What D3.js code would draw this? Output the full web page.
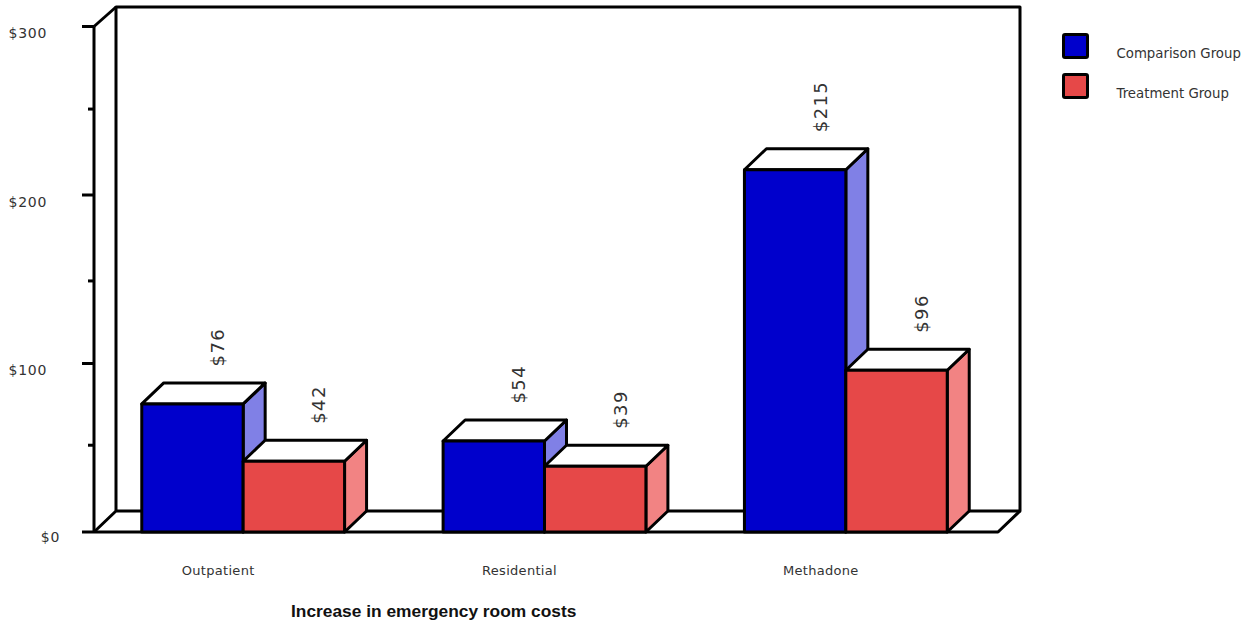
<!DOCTYPE html>
<html><head><meta charset="utf-8">
<script src="https://cdn.jsdelivr.net/npm/d3@7"></script>
<style>html,body{margin:0;padding:0;background:#fff}svg{display:block}</style>
</head><body><svg id="c" width="1253" height="624"></svg>
<script>
const categories = ["Outpatient","Residential","Methadone"];
const seriesNames = ["Comparison Group","Treatment Group"];
const comparison = [76,54,215];
const treatment = [42,39,96];
const yTicks = [0,100,200,300];
const yMinorTicks = [51.5,149,251];
const xTitle = "Increase in emergency room costs";
const frontColors = ["#0000cc","#e64848"];
const sideColors = ["#8080e6","#f28383"];

const svg = d3.select("#c");
const dx = 22, dy = 21;
const y = d3.scaleLinear().domain([0,300]).range([532,26.5]);
const x0 = d3.scaleBand().domain(categories).range([92.5,996.5]).paddingInner(0.327).paddingOuter(0.1635);
const x1 = d3.scaleBand().domain(seriesNames).range([0,x0.bandwidth()]);
const fmt = v => "$" + v;
const font = "'DejaVu Sans',Verdana,sans-serif";
const sw = 3;
const line = d3.line();

const L = 94, R = 998, B = y(0), T = y(300);
const g = svg.append("g").attr("fill","none").attr("stroke","#000").attr("stroke-width",sw).attr("stroke-linejoin","round");
g.append("path").attr("d",line([[L,B],[L+dx,B-dy],[R+dx,B-dy],[R+dx,T-dy+1.5],[L+dx,T-dy+1.5],[L+dx,B-dy]]));
g.append("path").attr("d",line([[L,T],[L+dx,T-dy+1.5]]));
g.append("path").attr("d",line([[L,B],[R,B],[R+dx,B-dy]]));
g.append("path").attr("d",line([[L,B],[L,T]]));

g.selectAll("line.major").data(yTicks).join("line").attr("class","major")
  .attr("x1",L-12).attr("x2",L).attr("y1",d=>y(d)).attr("y2",d=>y(d));
g.selectAll("line.minor").data(yMinorTicks).join("line").attr("class","minor")
  .attr("x1",L-6).attr("x2",L).attr("y1",d=>y(d)).attr("y2",d=>y(d));
svg.selectAll("text.ytick").data(yTicks).join("text").attr("class","ytick")
  .attr("x",d=>d===0?60:47).attr("y",d=>y(d)+(d===0?10:11.5)).attr("text-anchor","end")
  .attr("font-family",font).attr("font-size",14).attr("letter-spacing",0.7).attr("fill","#333").text(fmt);

[comparison,treatment].forEach((vals,s)=>{
  const name = seriesNames[s];
  const bars = svg.append("g").attr("stroke","#000").attr("stroke-width",sw).attr("stroke-linejoin","round");
  categories.forEach((c,i)=>{
    const xa = x0(c)+x1(name), xb = xa+x1.bandwidth(), yt = y(vals[i]);
    bars.append("path").attr("fill",sideColors[s]).attr("d",line([[xb,B],[xb+dx,B-dy],[xb+dx,yt-dy],[xb,yt]])+"Z");
    bars.append("path").attr("fill","#fff").attr("d",line([[xa,yt],[xa+dx,yt-dy],[xb+dx,yt-dy],[xb,yt]])+"Z");
    bars.append("path").attr("fill",frontColors[s]).attr("d",line([[xa,yt],[xb,yt],[xb,B],[xa,B]])+"Z");
    svg.append("text").attr("transform",`translate(${(xa+xb)/2+31.5},${yt-37.5}) rotate(-90)`)
      .attr("font-family",font).attr("font-size",18).attr("letter-spacing",1.4).attr("fill","#333").text(fmt(vals[i]));
  });
});

svg.selectAll("text.xtick").data(categories).join("text").attr("class","xtick")
  .attr("x",d=>x0(d)+x0.bandwidth()/2-25).attr("y",574.5).attr("text-anchor","middle")
  .attr("font-family",font).attr("font-size",13).attr("letter-spacing",0.3).attr("fill","#333").text(d=>d);

svg.append("text").attr("x",291).attr("y",617).attr("font-family","'Liberation Sans',Arial,sans-serif")
  .attr("font-size",17.35).attr("font-weight","bold").attr("fill","#111").text(xTitle);

const ly = d3.scalePoint().domain(seriesNames).range([46,86]);
svg.selectAll("rect.leg").data(seriesNames).join("rect").attr("class","leg")
  .attr("x",1063.5).attr("y",d=>ly(d)-11.5).attr("width",24).attr("height",23).attr("rx",1.5)
  .attr("fill",(d,i)=>frontColors[i]).attr("stroke","#000").attr("stroke-width",3);
svg.selectAll("text.leg").data(seriesNames).join("text").attr("class","leg")
  .attr("x",1116.5).attr("y",d=>ly(d)+12).attr("font-family",font).attr("font-size",13.3)
  .attr("fill","#333").text(d=>d);
</script></body></html>
